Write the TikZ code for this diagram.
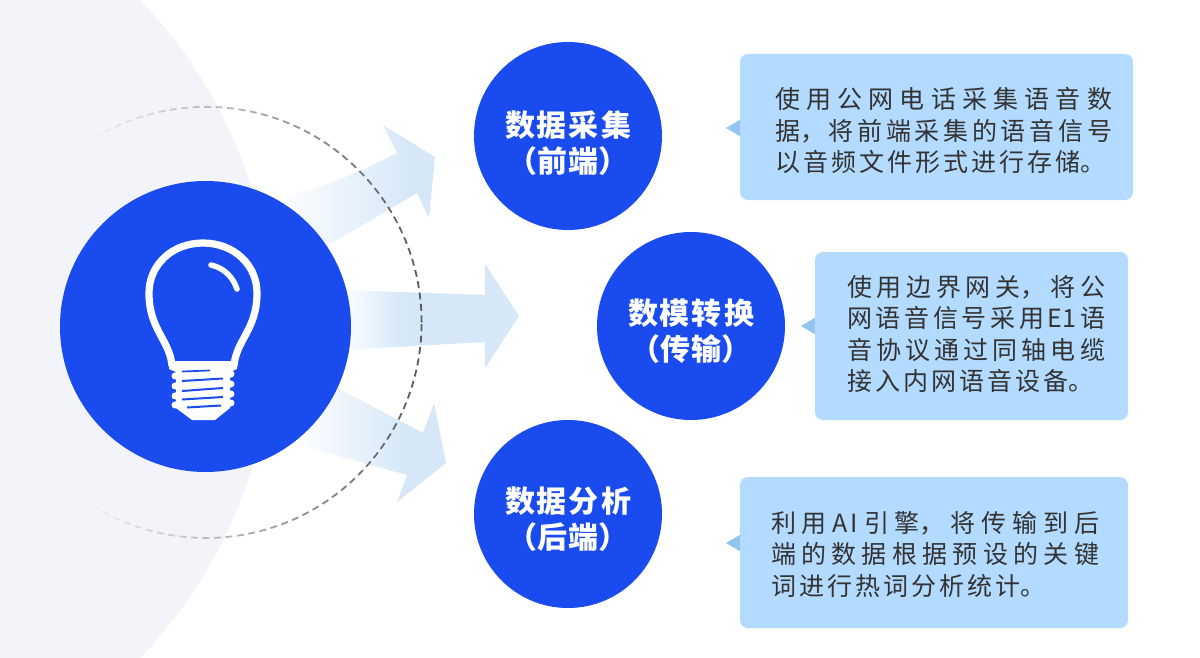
\documentclass[tikz,border=0pt]{standalone}
\usepackage{fontspec}
\usepackage{tikz}
\usetikzlibrary{fadings}
\setmainfont{Noto Sans CJK SC}
\XeTeXlinebreaklocale "zh"
\XeTeXlinebreakskip=3pt plus 8pt
\definecolor{hubblue}{HTML}{1A4BEE}
\definecolor{boxblue}{HTML}{B3DAFF}
\definecolor{tipblue}{HTML}{93C4EE}
\definecolor{arrowblue}{HTML}{D6E8F8}
\definecolor{paleback}{HTML}{F2F4FA}
\definecolor{bodytext}{HTML}{333333}
\pgfdeclarehorizontalshading{fadeupper}{100bp}{color(0bp)=(white); color(27bp)=(white); color(67bp)=(arrowblue); color(100bp)=(arrowblue)}
\pgfdeclarehorizontalshading{fademiddle}{100bp}{color(0bp)=(white); color(25bp)=(white); color(42bp)=(arrowblue); color(100bp)=(arrowblue)}
\pgfdeclarehorizontalshading{fadelower}{100bp}{color(0bp)=(white); color(25bp)=(white); color(61bp)=(arrowblue); color(100bp)=(arrowblue)}
\pgfdeclarehorizontalshading{ringmask}{100bp}{color(0bp)=(black); color(36bp)=(black); color(75bp)=(white); color(100bp)=(white)}
\pgfdeclarefading{ringfade}{\pgfuseshading{ringmask}}
\newcommand{\stagelabel}[2]{\XeTeXlinebreakskip=2pt\relax #1\\#2}
\begin{document}
\begin{tikzpicture}[x=1pt, y=-1pt,
StageNode/.style={circle, fill=hubblue, minimum size=188pt, inner sep=0pt},
StageText/.style={inner sep=0pt, text=white, text width=150pt, align=center, font=\fontsize{30}{36}\selectfont\bfseries},
NoteBox/.style={rounded corners=8pt, fill=boxblue, inner sep=0pt},
NoteText/.style={inner sep=0pt, align=justify, text=bodytext, font=\fontsize{25}{31.3}\selectfont},
NoteTip/.style={fill=tipblue, draw=none},
ThreadLine/.style={hubblue, line width=2pt}]

\useasboundingbox (0,0) rectangle (1200,658);
\fill[white] (0,0) rectangle (1200,658);
\clip (0,0) rectangle (1200,658);
\fill[paleback] (-202,329) circle[radius=474.6pt];

% arrows behind the hub
\path[shading=fadeupper] (270,200) .. controls (320,190) and (360,172) .. (397,153) -- (383,125) -- (435,157) -- (429,218) -- (417,193) -- (320,250) -- cycle;
\path[shading=fademiddle] (340,290) -- (485,295) -- (485,264) -- (519,316) -- (485,368) -- (485,342) -- (340,350) -- cycle;
\path[shading=fadelower] (330,384) -- (423,433) -- (434,403) -- (446,463) -- (397,502) -- (407,475) -- (295,444) -- cycle;

\draw[black!65, line width=1.8pt, dash pattern=on 7pt off 4.5pt, path fading=ringfade] (206,322.5) circle[radius=215.5pt];

\node[circle, fill=hubblue, minimum size=291pt, inner sep=0pt] (hub) at (205.5,326.5) {};

% bulb
\draw[white, line width=7.2pt] (172,366) .. controls (170,340) and (149,330) .. (149,293) .. controls (149,265) and (172,243) .. (203,243) .. controls (234,243) and (257,265) .. (257,293) .. controls (257,330) and (236,340) .. (234,366);
\draw[white, line width=5.5pt, line cap=round] (211,265) .. controls (224,268) and (233,277) .. (237,289);
\fill[white] (169,361) -- (237,361) -- (237,369) -- (230,372) -- (230,408) -- (215,420) -- (192,420) -- (176,408) -- (176,372) -- (169,369) -- cycle;
\foreach \ypos in {376,386,396,405}
  \draw[white, line width=7pt, line cap=round] (175,\ypos) -- (231,\ypos-2);
\draw[ThreadLine, line width=1.7pt] (182,371.5) -- (210,370.5);
\draw[ThreadLine] (182,381) -- (223,378.5);
\draw[ThreadLine] (182,391) -- (223,388);
\draw[ThreadLine] (182,399.5) -- (223,397);
\draw[ThreadLine] (187,407.5) -- (221,405.5);

% stages
\node[StageNode] (collect) at (568,136) {};
\node[StageNode] (convert) at (691,326) {};
\node[StageNode] (analyse) at (568,514) {};
\node[StageText] (collectname) at (568,143) {\stagelabel{数据采集}{（前端）}};
\node[StageText] (convertname) at (691,331) {\stagelabel{数模转换}{（传输）}};
\node[StageText] (analysename) at (568,519) {\stagelabel{数据分析}{（后端）}};

% notes
\path[NoteTip] (726,128) -- (743,118) -- (743,138) -- cycle;
\path[NoteTip] (801,326) -- (818,316) -- (818,336) -- cycle;
\path[NoteTip] (726,543) -- (743,533) -- (743,553) -- cycle;
\node[NoteBox, minimum width=393pt, minimum height=146pt] (collectbox) at (936.5,127) {};
\node[NoteBox, minimum width=313pt, minimum height=168pt] (convertbox) at (971.5,336) {};
\node[NoteBox, minimum width=388pt, minimum height=151pt] (analysebox) at (934,552.5) {};
\node[NoteText, text width=337pt] (collecttext) at (943.5,130.5) {使用公网电话采集语音数据，将前端采集的语音信号以音频文件形式进行存储。};
\node[NoteText, text width=258pt] (converttext) at (976,334) {使用边界网关，将公网语音信号采用E1语音协议通过同轴电缆接入内网语音设备。};
\node[NoteText, text width=328pt] (analysetext) at (935,554.5) {利用A\kern3pt I引擎，将传输到后\linebreak 端的数据根据预设的关键词进行热词分析统计。};

\end{tikzpicture}
\end{document}
